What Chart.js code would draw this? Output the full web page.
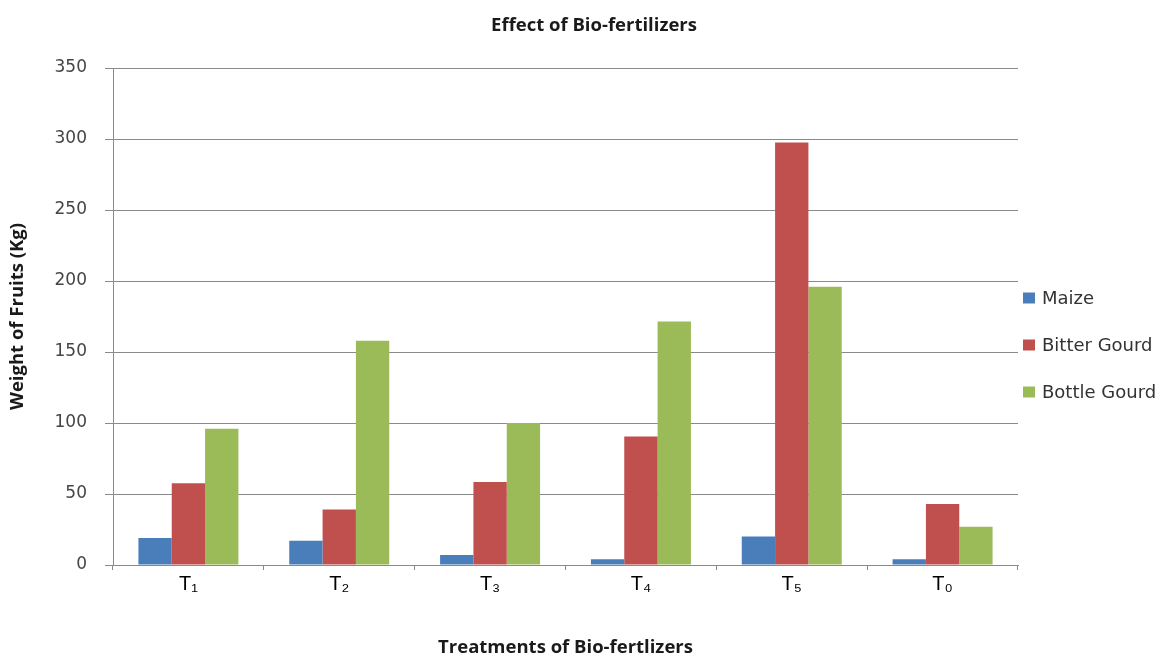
<!DOCTYPE html>
<html>
<head>
<meta charset="utf-8">
<script src="https://cdn.jsdelivr.net/npm/chart.js@4.4.1/dist/chart.umd.min.js"></script>
<style>
  html, body { margin: 0; padding: 0; background: #ffffff; }
  #wrap { width: 1161px; height: 654px; position: relative; }
</style>
</head>
<body>
<div id="wrap"><canvas id="chart" width="1161" height="654"></canvas></div>
<script>
// Treatments (x categories)
const categories = ['T\u2081', 'T\u2082', 'T\u2083', 'T\u2084', 'T\u2085', 'T\u2080'];

// Weight of fruits (Kg) per crop
const maize       = [19, 17, 7, 4, 20, 4];
const bitterGourd = [57.5, 39, 58.5, 90.5, 297.5, 43];
const bottleGourd = [96, 158, 100, 171.5, 196, 27];

const seriesNames = ['Maize', 'Bitter Gourd', 'Bottle Gourd'];

// Value axis ticks
const yTicks = [0, 50, 100, 150, 200, 250, 300, 350];

const chartTitle = 'Effect of Bio-fertilizers';

const colors = ['#4a7ebb', '#c0504d', '#9bbb59'];
const axisGray = '#8a8a8a';
const titleFont = { family: '"Open Sans"', size: 18.5, weight: 'bold' };

// Chart title, centred over the whole figure
const topTitle = {
  id: 'topTitle',
  afterDraw(chart) {
    const ctx = chart.ctx;
    ctx.save();
    ctx.font = 'bold 18.5px "Open Sans"';
    ctx.fillStyle = '#1a1a1a';
    ctx.textAlign = 'center';
    ctx.textBaseline = 'middle';
    ctx.fillText(chartTitle, 594, 26);
    ctx.restore();
  }
};

// Legend drawn at the right of the plot area
const sideLegend = {
  id: 'sideLegend',
  afterDraw(chart) {
    const ctx = chart.ctx;
    const area = chart.chartArea;
    ctx.save();
    ctx.font = '18px "DejaVu Sans"';
    ctx.textBaseline = 'middle';
    ctx.textAlign = 'left';
    chart.data.datasets.forEach((ds, i) => {
      const y = 298 + i * 47;
      const x = area.right + 5;
      ctx.fillStyle = ds.backgroundColor;
      ctx.fillRect(x, y - 5.5, 12, 11);
      ctx.fillStyle = '#333333';
      ctx.fillText(ds.label, x + 19, y + 1);
    });
    ctx.restore();
  }
};

new Chart(document.getElementById('chart'), {
  type: 'bar',
  data: {
    labels: categories,
    datasets: [
      { label: seriesNames[0], data: maize,       backgroundColor: colors[0] },
      { label: seriesNames[1], data: bitterGourd, backgroundColor: colors[1] },
      { label: seriesNames[2], data: bottleGourd, backgroundColor: colors[2] }
    ]
  },
  options: {
    responsive: false,
    animation: false,
    devicePixelRatio: 1,
    layout: { padding: { left: 0, right: 143, top: 68, bottom: 0 } },
    datasets: {
      bar: { categoryPercentage: 0.663, barPercentage: 1.0, borderWidth: 0 }
    },
    plugins: {
      legend: { display: false },
      tooltip: { enabled: false },
      title: { display: false }
    },
    scales: {
      x: {
        offset: true,
        grid: {
          display: true,
          offset: true,
          drawOnChartArea: false,
          drawTicks: true,
          tickLength: 5,
          color: axisGray
        },
        border: { display: true, color: axisGray, width: 1 },
        ticks: {
          color: '#000000',
          font: { family: '"Liberation Sans"', size: 20 },
          padding: 2,
          maxRotation: 0
        },
        title: {
          display: true,
          text: 'Treatments of Bio-fertlizers',
          color: '#1a1a1a',
          font: Object.assign({ lineHeight: 1 }, titleFont),
          padding: { top: 0, bottom: -3 }
        },
        afterFit(scale) { scale.height = 89; }
      },
      y: {
        min: 0,
        max: 350,
        afterBuildTicks(scale) { scale.ticks = yTicks.map(v => ({ value: v })); },
        grid: {
          color: axisGray,
          lineWidth: 1,
          drawTicks: true,
          tickLength: 8
        },
        border: { display: true, color: axisGray, width: 1 },
        ticks: {
          color: '#454545',
          font: { family: '"DejaVu Sans"', size: 17 },
          padding: 18
        },
        title: {
          display: true,
          text: 'Weight of Fruits (Kg)',
          color: '#1a1a1a',
          font: Object.assign({ lineHeight: 1.2 }, titleFont),
          padding: { top: 7, bottom: 0 }
        },
        afterFit(scale) { scale.width = 113; }
      }
    }
  },
  plugins: [topTitle, sideLegend]
});
</script>
</body>
</html>
